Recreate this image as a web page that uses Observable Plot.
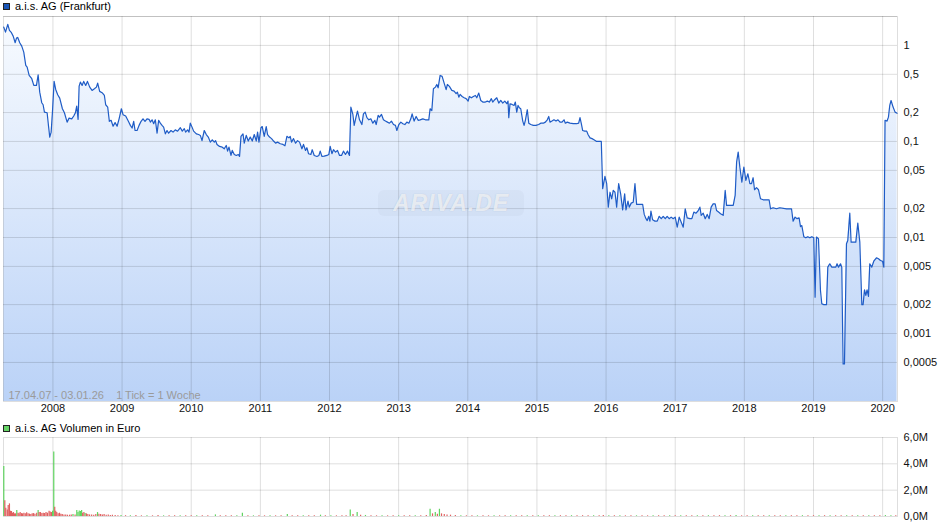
<!DOCTYPE html>
<html>
<head>
<meta charset="utf-8">
<script src="https://cdn.jsdelivr.net/npm/d3@7"></script>
<script src="https://cdn.jsdelivr.net/npm/@observablehq/plot@0.6"></script>
<style>
  body { margin: 0; background: #fff; font-family: "Liberation Sans", Arial, sans-serif; }
  #wrap { position: relative; width: 940px; height: 526px; overflow: hidden; }
  .legend { position: absolute; left: 3px; font-size: 11px; line-height: 12px; color: #000; display: flex; align-items: center; white-space: nowrap; }
  .sw { width: 5px; height: 5px; border: 1px solid #222; margin-right: 5px; }
  .chart { position: absolute; left: 0; }
  #wm { position: absolute; left: 378px; top: 190px; width: 146px; height: 26px; border-radius: 6px;
        background: rgba(150,165,190,0.09); color: rgba(255,255,255,0.7); font: italic bold 23px "Liberation Sans", Arial, sans-serif;
        text-align: center; line-height: 26px; letter-spacing: 1px; text-shadow: 0 0 1px rgba(110,125,150,0.35); }
</style>
</head>
<body>
<div id="wrap">
  <div class="legend" style="top:0px;height:12px"><div class="sw" style="background:#1a56b8"></div><span id="lg1"></span></div>
  <div id="price" class="chart" style="top:0px"></div>
  <div id="wm">ARIVA.DE</div>
  <div class="legend" style="top:422px;height:12px"><div class="sw" style="background:#66d466"></div><span id="lg2"></span></div>
  <div id="volume" class="chart" style="top:421px"></div>
</div>
<script>
// ---------- data ----------
const seriesName = "a.i.s. AG (Frankfurt)";
const volumeName = "a.i.s. AG Volumen in Euro";
const caption = "17.04.07 - 03.01.26\u00a0\u00a0\u00a0 1 Tick = 1 Woche";

const years = [2008, 2009, 2010, 2011, 2012, 2013, 2014, 2015, 2016, 2017, 2018, 2019, 2020];
const priceTicks = [1, 0.5, 0.2, 0.1, 0.05, 0.02, 0.01, 0.005, 0.002, 0.001, 0.0005];
const priceTickLabels = ["1", "0,5", "0,2", "0,1", "0,05", "0,02", "0,01", "0,005", "0,002", "0,001", "0,0005"];
const priceGrid = [2, 1, 0.5, 0.2, 0.1, 0.05, 0.02, 0.01, 0.005, 0.002, 0.001, 0.0005];
const volumeTicks = [0, 2, 4, 6];
const volumeTickLabels = ["0,0M", "2,0M", "4,0M", "6,0M"];

// [year, price in EUR]
const priceSeries = [
[2007.289,1.551],[2007.314,1.375],[2007.347,1.655],[2007.371,1.433],[2007.400,1.356],[2007.425,1.250],[2007.454,1.067],[2007.473,1.191],[2007.491,1.211],[2007.520,1.067],
[2007.549,0.983],[2007.578,0.852],[2007.607,0.619],[2007.627,0.594],[2007.656,0.487],[2007.694,0.450],[2007.723,0.383],[2007.762,0.383],[2007.786,0.495],[2007.809,0.326],
[2007.838,0.253],[2007.858,0.241],[2007.877,0.202],[2007.916,0.199],[2007.935,0.147],[2007.954,0.111],[2007.974,0.125],[2007.993,0.202],[2008.017,0.422],[2008.040,0.348],
[2008.069,0.306],[2008.098,0.283],[2008.137,0.219],[2008.166,0.199],[2008.205,0.159],[2008.234,0.175],[2008.272,0.172],[2008.301,0.184],[2008.325,0.199],[2008.344,0.233],
[2008.364,0.170],[2008.379,0.377],[2008.397,0.415],[2008.422,0.383],[2008.445,0.422],[2008.474,0.383],[2008.499,0.422],[2008.532,0.368],[2008.566,0.340],[2008.600,0.354],
[2008.629,0.368],[2008.647,0.405],[2008.676,0.332],[2008.711,0.322],[2008.744,0.301],[2008.763,0.241],[2008.792,0.228],[2008.816,0.162],[2008.841,0.166],[2008.870,0.144],
[2008.899,0.157],[2008.928,0.144],[2008.957,0.172],[2008.990,0.219],[2009.014,0.190],[2009.052,0.184],[2009.091,0.162],[2009.120,0.147],[2009.145,0.138],[2009.168,0.162],
[2009.188,0.130],[2009.217,0.130],[2009.246,0.147],[2009.275,0.162],[2009.303,0.172],[2009.332,0.162],[2009.361,0.172],[2009.390,0.170],[2009.409,0.159],[2009.434,0.168],
[2009.457,0.153],[2009.481,0.168],[2009.506,0.122],[2009.529,0.166],[2009.553,0.155],[2009.578,0.147],[2009.601,0.141],[2009.626,0.120],[2009.650,0.130],[2009.673,0.122],
[2009.708,0.130],[2009.737,0.125],[2009.770,0.132],[2009.803,0.128],[2009.843,0.139],[2009.871,0.128],[2009.900,0.136],[2009.919,0.125],[2009.948,0.132],[2009.968,0.125],
[2009.987,0.155],[2010.012,0.141],[2010.035,0.128],[2010.074,0.120],[2010.107,0.118],[2010.132,0.1155],[2010.156,0.102],[2010.189,0.130],[2010.218,0.118],[2010.247,0.111],
[2010.276,0.0984],[2010.305,0.104],[2010.334,0.0984],[2010.353,0.102],[2010.373,0.0931],[2010.410,0.0887],[2010.449,0.0872],[2010.478,0.0839],[2010.507,0.0908],[2010.526,0.0793],
[2010.546,0.0872],[2010.575,0.0715],[2010.594,0.0806],[2010.623,0.0732],[2010.652,0.0715],[2010.681,0.0732],[2010.699,0.0698],[2010.720,0.113],[2010.749,0.120],[2010.767,0.0960],
[2010.796,0.1155],[2010.825,0.101],[2010.854,0.111],[2010.883,0.101],[2010.912,0.118],[2010.941,0.101],[2010.960,0.125],[2010.980,0.0984],[2011.009,0.139],[2011.027,0.143],
[2011.056,0.113],[2011.085,0.143],[2011.104,0.118],[2011.133,0.111],[2011.162,0.107],[2011.191,0.101],[2011.220,0.0960],[2011.249,0.0984],[2011.288,0.0946],[2011.327,0.0931],
[2011.356,0.0902],[2011.384,0.113],[2011.413,0.109],[2011.432,0.113],[2011.451,0.0984],[2011.480,0.107],[2011.509,0.0960],[2011.538,0.102],[2011.567,0.0984],[2011.601,0.0839],
[2011.624,0.0931],[2011.653,0.0806],[2011.673,0.0860],[2011.697,0.0745],[2011.731,0.0732],[2011.750,0.0820],[2011.779,0.0715],[2011.818,0.0698],[2011.847,0.0715],[2011.866,0.0793],
[2011.890,0.0698],[2011.923,0.0703],[2011.962,0.0715],[2011.991,0.0732],[2012.010,0.0887],[2012.035,0.0745],[2012.058,0.0820],[2012.087,0.0774],[2012.116,0.0806],[2012.145,0.0715],
[2012.174,0.0715],[2012.202,0.0793],[2012.231,0.0732],[2012.260,0.0793],[2012.289,0.0715],[2012.309,0.228],[2012.338,0.191],[2012.357,0.147],[2012.386,0.182],[2012.405,0.207],
[2012.434,0.168],[2012.468,0.150],[2012.491,0.194],[2012.516,0.202],[2012.541,0.177],[2012.569,0.168],[2012.598,0.172],[2012.627,0.155],[2012.656,0.166],[2012.675,0.150],
[2012.704,0.187],[2012.723,0.179],[2012.752,0.191],[2012.780,0.168],[2012.809,0.163],[2012.838,0.159],[2012.867,0.155],[2012.896,0.163],[2012.925,0.150],[2012.954,0.147],
[2012.974,0.130],[2013.003,0.150],[2013.032,0.159],[2013.061,0.153],[2013.090,0.150],[2013.119,0.159],[2013.148,0.155],[2013.176,0.172],[2013.195,0.194],[2013.224,0.163],
[2013.253,0.182],[2013.282,0.166],[2013.311,0.168],[2013.350,0.172],[2013.387,0.168],[2013.436,0.168],[2013.455,0.219],[2013.480,0.210],[2013.503,0.354],[2013.532,0.368],
[2013.552,0.392],[2013.571,0.362],[2013.600,0.487],[2013.629,0.476],[2013.658,0.405],[2013.687,0.346],[2013.705,0.392],[2013.734,0.374],[2013.769,0.340],[2013.802,0.334],
[2013.831,0.314],[2013.850,0.326],[2013.870,0.289],[2013.889,0.309],[2013.918,0.294],[2013.947,0.285],[2013.976,0.279],[2014.005,0.263],[2014.023,0.294],[2014.052,0.285],
[2014.081,0.294],[2014.110,0.301],[2014.130,0.285],[2014.159,0.319],[2014.188,0.267],[2014.217,0.257],[2014.254,0.257],[2014.283,0.263],[2014.312,0.257],[2014.341,0.279],
[2014.361,0.257],[2014.390,0.272],[2014.419,0.285],[2014.448,0.251],[2014.477,0.267],[2014.506,0.251],[2014.535,0.263],[2014.564,0.247],[2014.582,0.263],[2014.593,0.177],
[2014.611,0.247],[2014.640,0.243],[2014.669,0.237],[2014.688,0.257],[2014.708,0.202],[2014.727,0.237],[2014.746,0.224],[2014.766,0.219],[2014.795,0.163],[2014.814,0.147],
[2014.833,0.166],[2014.861,0.214],[2014.882,0.155],[2014.911,0.150],[2014.948,0.147],[2014.987,0.147],[2015.026,0.150],[2015.055,0.155],[2015.093,0.155],[2015.122,0.159],
[2015.150,0.168],[2015.171,0.182],[2015.189,0.159],[2015.218,0.163],[2015.247,0.168],[2015.276,0.163],[2015.305,0.168],[2015.334,0.159],[2015.363,0.159],[2015.392,0.168],
[2015.411,0.155],[2015.439,0.159],[2015.478,0.155],[2015.526,0.153],[2015.575,0.153],[2015.604,0.155],[2015.623,0.177],[2015.642,0.153],[2015.662,0.130],[2015.691,0.128],
[2015.720,0.128],[2015.739,0.118],[2015.768,0.109],[2015.797,0.107],[2015.825,0.104],[2015.864,0.100],[2015.902,0.100],[2015.931,0.100],[2015.951,0.0322],[2015.984,0.0432],
[2016.009,0.0363],[2016.032,0.0207],[2016.057,0.0296],[2016.081,0.0253],[2016.104,0.0309],[2016.129,0.0296],[2016.153,0.0207],[2016.182,0.0363],[2016.211,0.0285],[2016.240,0.0194],
[2016.269,0.0285],[2016.288,0.0194],[2016.317,0.0239],[2016.335,0.0207],[2016.364,0.0228],[2016.393,0.0233],[2016.418,0.0363],[2016.442,0.0221],[2016.480,0.0221],[2016.529,0.0221],
[2016.552,0.0174],[2016.577,0.0157],[2016.595,0.0150],[2016.616,0.0166],[2016.634,0.0148],[2016.649,0.0188],[2016.673,0.0153],[2016.707,0.0148],[2016.740,0.0148],[2016.769,0.0166],
[2016.798,0.0157],[2016.827,0.0166],[2016.856,0.0157],[2016.884,0.0166],[2016.913,0.0157],[2016.942,0.0163],[2016.971,0.0157],[2017.000,0.0163],[2017.029,0.0128],[2017.058,0.0163],
[2017.087,0.0144],[2017.116,0.0128],[2017.145,0.0199],[2017.173,0.0160],[2017.212,0.0157],[2017.241,0.0157],[2017.270,0.0184],[2017.299,0.0179],[2017.328,0.0188],[2017.357,0.0207],
[2017.376,0.0170],[2017.405,0.0179],[2017.434,0.0157],[2017.463,0.0174],[2017.491,0.0157],[2017.520,0.0207],[2017.549,0.0224],[2017.578,0.0224],[2017.598,0.0191],[2017.627,0.0184],
[2017.656,0.0177],[2017.694,0.0170],[2017.723,0.0309],[2017.743,0.0216],[2017.791,0.0216],[2017.839,0.0216],[2017.867,0.0274],[2017.888,0.0609],[2017.911,0.0774],[2017.935,0.0540],
[2017.964,0.0377],[2017.993,0.0540],[2018.022,0.0393],[2018.051,0.0461],[2018.080,0.0363],[2018.104,0.0363],[2018.127,0.0419],[2018.147,0.0314],[2018.176,0.0330],[2018.205,0.0314],
[2018.234,0.0253],[2018.272,0.0247],[2018.358,0.0247],[2018.379,0.0199],[2018.416,0.0204],[2018.465,0.0199],[2018.513,0.0204],[2018.610,0.0199],[2018.682,0.0199],[2018.705,0.0148],
[2018.734,0.0163],[2018.763,0.0157],[2018.792,0.0160],[2018.812,0.0130],[2018.831,0.0133],[2018.860,0.0102],[2018.889,0.00993],[2018.918,0.0102],[2018.947,0.00993],[2018.976,0.0102],
[2019.004,0.00993],[2019.023,0.00239],[2019.043,0.0101],[2019.072,0.00969],[2019.101,0.00281],[2019.120,0.00204],[2019.149,0.002],[2019.188,0.002],[2019.207,0.00491],[2019.236,0.00532],
[2019.265,0.00491],[2019.323,0.00491],[2019.341,0.00532],[2019.362,0.00491],[2019.391,0.00532],[2019.409,0.00491],[2019.428,0.000483],[2019.448,0.000483],[2019.477,0.00860],[2019.496,0.00930],
[2019.525,0.0179],[2019.544,0.00894],[2019.612,0.00894],[2019.641,0.0141],[2019.670,0.00894],[2019.699,0.002],[2019.717,0.002],[2019.738,0.00285],[2019.757,0.00249],[2019.775,0.00285],
[2019.795,0.00243],[2019.814,0.00532],[2019.843,0.00491],[2019.872,0.00566],[2019.911,0.00615],[2019.940,0.00600],[2019.969,0.00576],[2019.998,0.00566],[2020.017,0.00491],[2020.035,0.166],
[2020.064,0.163],[2020.084,0.179],[2020.103,0.237],[2020.122,0.267],[2020.151,0.228],[2020.180,0.202],[2020.209,0.197]
];

// [year, volume in million EUR, 1 = up week / 0 = down week]
const volumeSeries = [
[2007.289,3.8,1],[2007.304,1.2,0],[2007.318,0.63,0],[2007.340,0.5,0],[2007.353,0.84,0],[2007.371,0.96,0],[2007.386,0.4,0],[2007.400,0.38,0],[2007.415,0.25,0],[2007.429,0.3,0],
[2007.445,0.2,0],[2007.460,0.2,0],[2007.477,0.46,1],[2007.495,0.25,0],[2007.510,0.2,0],[2007.526,0.3,0],[2007.545,0.22,0],[2007.560,0.2,0],[2007.580,0.25,0],[2007.600,0.2,0],
[2007.620,0.28,0],[2007.640,0.2,0],[2007.660,0.18,0],[2007.680,0.15,0],[2007.700,0.2,0],[2007.720,0.22,0],[2007.740,0.18,0],[2007.765,0.25,0],[2007.786,0.46,1],[2007.800,0.3,0],
[2007.820,0.3,0],[2007.840,0.22,0],[2007.860,0.25,0],[2007.880,0.22,0],[2007.900,0.3,0],[2007.920,0.25,0],[2007.944,0.4,0],[2007.960,0.35,0],[2007.978,0.3,0],[2007.995,0.4,1],
[2008.012,4.9,1],[2008.026,0.7,0],[2008.040,0.4,0],[2008.055,0.3,0],[2008.075,0.2,0],[2008.095,0.25,0],[2008.115,0.18,0],[2008.135,0.15,0],[2008.160,0.12,0],[2008.185,0.12,0],
[2008.210,0.1,0],[2008.240,0.1,0],[2008.265,0.12,0],[2008.290,0.15,1],[2008.320,0.12,0],[2008.345,0.45,1],[2008.362,0.3,1],[2008.380,0.42,1],[2008.398,0.38,1],[2008.415,0.45,1],
[2008.430,0.25,0],[2008.448,0.3,0],[2008.465,0.22,1],[2008.485,0.2,0],[2008.505,0.15,0],[2008.530,0.12,0],[2008.560,0.12,0],[2008.590,0.1,0],[2008.620,0.15,0],[2008.645,0.3,1],
[2008.665,0.18,0],[2008.690,0.15,0],[2008.715,0.12,0],[2008.740,0.15,0],[2008.770,0.1,0],[2008.800,0.12,0],[2008.830,0.08,0],[2008.860,0.1,0],[2008.900,0.08,0],[2008.940,0.06,0],
[2008.985,0.08,1],[2009.05,0.06,0],[2009.12,0.05,1],[2009.20,0.07,0],[2009.28,0.05,0],[2009.36,0.06,1],[2009.44,0.05,0],[2009.52,0.07,0],[2009.60,0.05,1],[2009.68,0.06,0],
[2009.76,0.05,0],[2009.84,0.06,1],[2009.92,0.05,0],[2010.00,0.06,0],[2010.08,0.05,1],[2010.16,0.06,0],[2010.24,0.05,0],[2010.35,0.12,1],[2010.42,0.05,0],[2010.50,0.06,0],
[2010.58,0.05,0],[2010.66,0.06,1],[2010.74,0.25,1],[2010.82,0.06,0],[2010.90,0.05,1],[2010.98,0.06,0],[2011.06,0.05,0],[2011.14,0.06,1],[2011.22,0.05,0],[2011.30,0.06,0],
[2011.39,0.15,1],[2011.46,0.05,0],[2011.54,0.06,0],[2011.62,0.05,1],[2011.70,0.06,0],[2011.78,0.05,0],[2011.87,0.1,1],[2011.94,0.05,0],[2012.02,0.06,1],[2012.10,0.05,0],
[2012.18,0.06,0],[2012.24,0.05,0],[2012.30,0.5,1],[2012.34,0.15,0],[2012.40,0.3,1],[2012.45,0.1,0],[2012.52,0.08,1],[2012.60,0.06,0],[2012.68,0.05,0],[2012.76,0.06,1],
[2012.84,0.05,0],[2012.92,0.06,0],[2013.00,0.05,1],[2013.08,0.06,0],[2013.16,0.05,0],[2013.24,0.06,1],[2013.32,0.05,0],[2013.40,0.08,0],[2013.455,0.55,1],[2013.49,0.2,0],
[2013.53,0.3,1],[2013.56,0.18,0],[2013.59,0.55,1],[2013.62,0.2,0],[2013.66,0.15,0],[2013.70,0.12,0],[2013.75,0.1,0],[2013.82,0.08,0],[2013.90,0.06,1],[2013.98,0.05,0],
[2014.06,0.06,0],[2014.14,0.05,1],[2014.22,0.06,0],[2014.30,0.05,0],[2014.38,0.06,1],[2014.46,0.05,0],[2014.54,0.06,0],[2014.62,0.05,1],[2014.70,0.06,0],[2014.78,0.05,0],
[2014.86,0.06,1],[2014.94,0.05,0],[2015.02,0.06,1],[2015.10,0.05,0],[2015.18,0.06,0],[2015.26,0.05,1],[2015.34,0.06,0],[2015.42,0.05,0],[2015.50,0.06,1],[2015.58,0.05,0],
[2015.66,0.06,0],[2015.74,0.05,0],[2015.82,0.06,1],[2015.90,0.05,0],[2015.96,0.07,0],[2016.04,0.06,1],[2016.12,0.05,0],[2016.20,0.06,1],[2016.28,0.05,0],[2016.36,0.06,0],
[2016.44,0.05,1],[2016.52,0.06,0],[2016.60,0.05,0],[2016.68,0.06,1],[2016.76,0.05,0],[2016.84,0.06,0],[2016.92,0.05,1],[2017.00,0.06,0],[2017.08,0.05,1],[2017.16,0.06,0],
[2017.24,0.05,0],[2017.32,0.06,1],[2017.40,0.05,0],[2017.48,0.06,1],[2017.56,0.05,0],[2017.64,0.06,0],[2017.72,0.05,1],[2017.80,0.06,0],[2017.88,0.07,1],[2017.96,0.05,0],
[2018.04,0.06,0],[2018.12,0.05,1],[2018.20,0.06,0],[2018.28,0.05,0],[2018.36,0.06,1],[2018.44,0.05,0],[2018.52,0.06,0],[2018.60,0.05,1],[2018.68,0.06,0],[2018.76,0.05,0],
[2018.84,0.06,1],[2018.92,0.05,0],[2019.00,0.06,0],[2019.08,0.05,1],[2019.16,0.06,0],[2019.24,0.05,1],[2019.32,0.06,0],[2019.40,0.05,0],[2019.48,0.06,1],[2019.56,0.05,0],
[2019.64,0.06,1],[2019.72,0.05,0],[2019.80,0.06,1],[2019.88,0.05,0],[2019.96,0.06,0],[2020.04,0.07,1],[2020.12,0.06,1],[2020.19,0.05,0]
];

// ---------- build ----------
document.getElementById("lg1").textContent = seriesName;
document.getElementById("lg2").textContent = volumeName;

const price = priceSeries.map(([t, v]) => ({t, v}));
const volume = volumeSeries.map(([t, v, up]) => ({t, v, up}));
const priceLabels = priceTicks.map((v, i) => ({v, label: priceTickLabels[i]}));
const volLabels = volumeTicks.map((v, i) => ({v, label: volumeTickLabels[i]}));
const xDomain = [2007.285, 2020.215];
const yMin = 0.000196;
const font = '"Liberation Sans", Arial, sans-serif';
const gridStroke = {stroke: "#000", strokeOpacity: 0.13};

function gradientDefs(index, scales, values, dim) {
  const ns = "http://www.w3.org/2000/svg";
  const defs = document.createElementNS(ns, "defs");
  const g = document.createElementNS(ns, "linearGradient");
  g.setAttribute("id", "priceGrad");
  g.setAttribute("gradientUnits", "userSpaceOnUse");
  g.setAttribute("x1", 0); g.setAttribute("x2", 0);
  g.setAttribute("y1", dim.marginTop);
  g.setAttribute("y2", dim.height - dim.marginBottom);
  [["0%", "#f8fbff"], ["100%", "#bad2f7"]].forEach(([o, c]) => {
    const s = document.createElementNS(ns, "stop");
    s.setAttribute("offset", o); s.setAttribute("stop-color", c);
    g.appendChild(s);
  });
  defs.appendChild(g);
  return defs;
}

const priceChart = Plot.plot({
  width: 940, height: 420,
  marginTop: 16, marginBottom: 19, marginLeft: 3, marginRight: 43,
  style: {fontFamily: font, fontSize: "11px", background: "transparent", color: "#000", overflow: "visible"},
  x: {type: "linear", domain: xDomain, label: null},
  y: {type: "log", domain: [yMin, 2], label: null, axis: null},
  marks: [
    gradientDefs,
    Plot.areaY(price, {x: "t", y1: yMin, y2: "v", fill: "url(#priceGrad)"}),
    Plot.ruleY(priceGrid, {...gridStroke}),
    Plot.ruleX(years, {...gridStroke}),
    Plot.text([caption], {frameAnchor: "bottom-left", dx: 5, dy: -6, lineAnchor: "middle", textAnchor: "start", fill: "#9a9a9a", fontSize: 11}),
    Plot.lineY(price, {x: "t", y: "v", stroke: "#1f5cc6", strokeWidth: 1.2}),
    Plot.frame({...gridStroke}),
    Plot.axisX({ticks: years, tickFormat: d => String(d), tickSize: 0, tickPadding: 3, anchor: "bottom", fill: "#111", label: null}),
    Plot.text(priceLabels, {y: "v", text: "label", frameAnchor: "right", dx: 6, textAnchor: "start", fill: "#111", fontSize: 11})
  ]
});
document.getElementById("price").appendChild(priceChart);

const volumeChart = Plot.plot({
  width: 940, height: 105,
  marginTop: 16, marginBottom: 10, marginLeft: 3, marginRight: 43,
  style: {fontFamily: font, fontSize: "11px", background: "transparent", color: "#000", overflow: "visible"},
  x: {type: "linear", domain: xDomain, axis: null, label: null},
  y: {type: "linear", domain: [0, 6], axis: null, label: null},
  marks: [
    Plot.ruleY([2, 4], {...gridStroke}),
    Plot.ruleX(years, {...gridStroke}),
    Plot.frame({...gridStroke}),
    Plot.ruleX(volume, {x: "t", y1: 0, y2: "v", stroke: d => d.up ? "#5fd35f" : "#e06060", strokeWidth: 1.2}),
    Plot.text(volLabels, {y: "v", text: "label", frameAnchor: "right", dx: 6, textAnchor: "start", fill: "#111", fontSize: 11})
  ]
});
document.getElementById("volume").appendChild(volumeChart);
</script>
</body>
</html>
